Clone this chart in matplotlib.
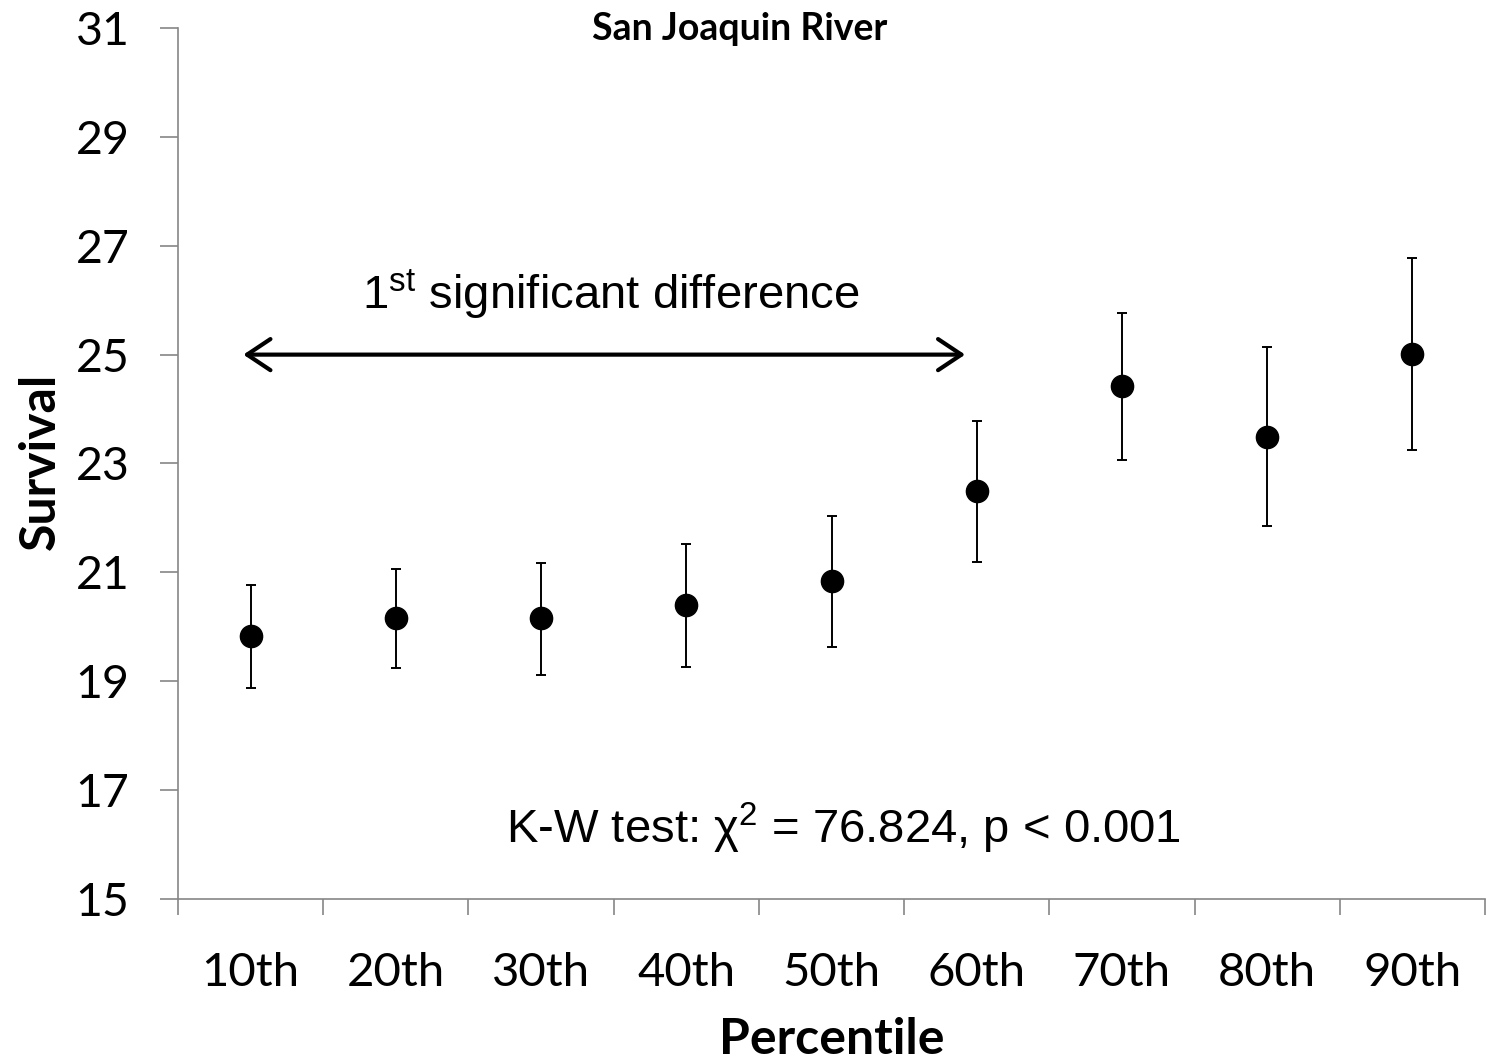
import matplotlib.pyplot as plt

percentiles = ['10th', '20th', '30th', '40th', '50th', '60th', '70th', '80th', '90th']
survival = [19.83, 20.16, 20.16, 20.40, 20.84, 22.50, 24.42, 23.49, 25.01]
upper = [20.77, 21.06, 21.17, 21.52, 22.04, 23.78, 25.76, 25.14, 26.78]
lower = [18.88, 19.24, 19.12, 19.26, 19.63, 21.19, 23.06, 21.85, 23.25]
y_ticks = [15, 17, 19, 21, 23, 25, 27, 29, 31]

axis_grey = '#868686'
plt.rcParams['mathtext.fontset'] = 'custom'
plt.rcParams['mathtext.rm'] = 'Liberation Sans'

fig = plt.figure(figsize=(14.87, 10.61), dpi=100)
ax = fig.add_axes([0.1197, 0.1527, 0.8790, 0.8209])

x = list(range(len(percentiles)))
err_lo = [s - l for s, l in zip(survival, lower)]
err_hi = [u - s for s, u in zip(survival, upper)]
ax.errorbar(x, survival, yerr=[err_lo, err_hi], fmt='o', color='black',
            markersize=16, ecolor='black', elinewidth=1.4, capsize=3.6,
            capthick=1.4, zorder=3)

ax.set_xlim(-0.5, len(percentiles) - 0.5)
ax.set_ylim(15, 31)
ax.set_yticks(y_ticks)
ax.set_xticks(x)
ax.set_xticklabels(percentiles)
ax.set_xticks([i - 0.5 for i in range(len(percentiles) + 1)], minor=True)

for side in ['top', 'right']:
    ax.spines[side].set_visible(False)
for side in ['left', 'bottom']:
    ax.spines[side].set_color(axis_grey)
    ax.spines[side].set_linewidth(1.2)

ax.tick_params(axis='y', direction='out', length=13, width=1.2, color=axis_grey,
               pad=22, labelsize=33.5)
ax.tick_params(axis='x', which='major', length=0, pad=38, labelsize=34)
ax.tick_params(axis='x', which='minor', direction='out', length=11.5, width=1.2,
               color=axis_grey)
for lbl in ax.get_xticklabels() + ax.get_yticklabels():
    lbl.set_fontfamily('Lato')

ax.set_ylabel('Survival', fontfamily='Lato', fontweight='bold', fontsize=36,
              va='baseline')
ax.yaxis.set_label_coords(-0.094, 0.502)
ax.set_xlabel('Percentile', fontfamily='Lato', fontweight='bold', fontsize=36,
              va='baseline')
ax.xaxis.set_label_coords(0.5, -0.178)

fig.text(0.4977, 0.973, 'San Joaquin River', fontfamily='Lato', fontweight='bold',
         fontsize=27, ha='center', va='center')

# double-headed arrow marking the span up to the first significant difference
ax.annotate('', xy=(-0.05, 25.0), xytext=(4.92, 25.0),
            arrowprops=dict(arrowstyle='<->,head_length=0.6,head_width=0.4',
                            color='black', lw=3, mutation_scale=28,
                            shrinkA=0, shrinkB=0))
ax.text(2.48, 26.12, r'1$^{\mathregular{st}}$ significant difference',
        fontfamily='Liberation Sans', fontsize=34, ha='center', va='center')

ax.text(4.08, 16.3, r'K-W test: χ$^{\mathregular{2}}$ = 76.824, p < 0.001',
        fontfamily='Liberation Sans', fontsize=34, ha='center', va='center')

fig.savefig('out.png', dpi=100)
